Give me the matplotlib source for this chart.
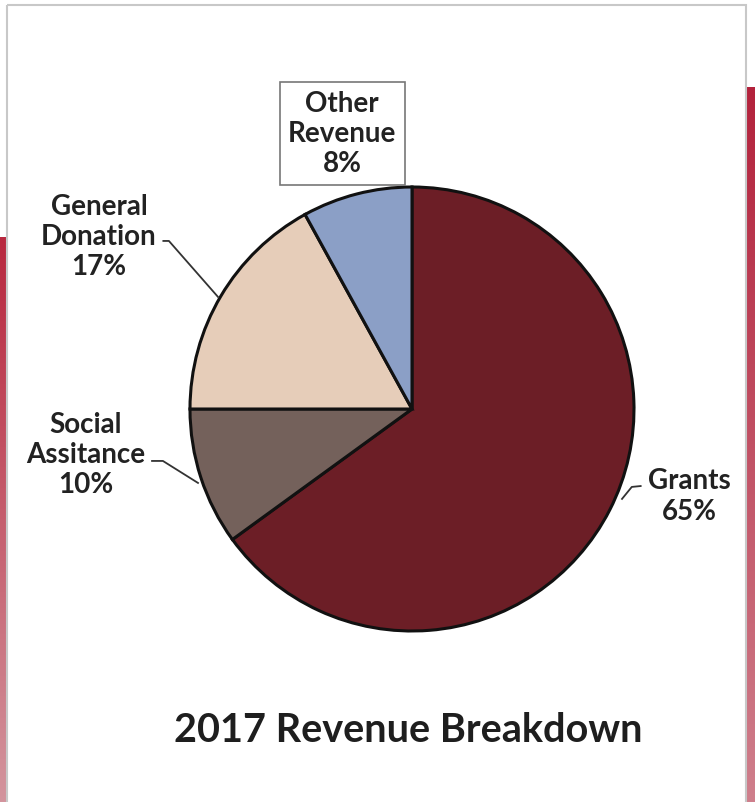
import matplotlib
matplotlib.use("Agg")
import matplotlib.pyplot as plt
import numpy as np
from matplotlib.patches import Rectangle
from matplotlib.colors import LinearSegmentedColormap

categories = ["Grants", "Social\nAssitance", "General\nDonation", "Other\nRevenue"]
values = [65, 10, 17, 8]
colors = ["#6c1e26", "#74615b", "#e6cdb9", "#8b9fc6"]
title = "2017 Revenue Breakdown"

plt.rcParams['font.family'] = ['Lato', 'DejaVu Sans']

W, H = 755, 803
fig = plt.figure(figsize=(W / 100, H / 100), dpi=100)
fig.patch.set_facecolor("white")

# background frame (brochure scan look)
bg = fig.add_axes([0, 0, 1, 1])
bg.axis("off")
grad = np.linspace(0, 1, 256).reshape(-1, 1)
cm_left = LinearSegmentedColormap.from_list("l", ["#b8283f", "#d3949d"])
cm_right = LinearSegmentedColormap.from_list("r", ["#b3223c", "#cf7f8c"])
bg.imshow(grad, cmap=cm_left, extent=[0, 7, H, 238], aspect="auto", zorder=1)
bg.imshow(grad, cmap=cm_right, extent=[746, W, H, 88], aspect="auto", zorder=1)
bg.add_patch(Rectangle((7, 6), 739, 800, fill=False, edgecolor="#c8c8c8", linewidth=1.5, zorder=2))
bg.set_xlim(0, W)
bg.set_ylim(H, 0)

cx, cy, r = 412, 410, 222
ax = fig.add_axes([(cx - r) / W, (H - cy - r) / H, 2 * r / W, 2 * r / H])
ax.pie(values, colors=colors, startangle=90, counterclock=False,
       wedgeprops=dict(edgecolor="#111111", linewidth=2.2))
ax.set_xlim(-1, 1)
ax.set_ylim(-1, 1)
ax.set_aspect("equal")
ax.axis("off")

txt = dict(fontsize=20, fontweight="bold", color="#222222", ha="center", va="center",
           linespacing=1.2)
lbl = [f"{c}\n{v}%" for c, v in zip(categories, values)]

# Grants
ax.text(1.25, -0.39, lbl[0], **txt, clip_on=False)
ax.plot([1.03, 0.99, 0.946], [-0.347, -0.351, -0.405], color="#333333", lw=1.3, clip_on=False)
# Social
ax.text(-1.47, -0.203, lbl[1], **txt, clip_on=False)
ax.plot([-1.171, -1.122, -0.964], [-0.234, -0.234, -0.333], color="#333333", lw=1.3, clip_on=False)
# General
ax.text(-1.41, 0.779, lbl[2], **txt, clip_on=False)
ax.plot([-1.12, -1.095, -0.874], [0.757, 0.757, 0.505], color="#333333", lw=1.3, clip_on=False)
# Other
ax.text(-0.315, 1.243, lbl[3], **txt, clip_on=False,
        bbox=dict(boxstyle="square,pad=0.3", facecolor="white", edgecolor="#777777", linewidth=1.2))

fig.text(408 / W, 1 - 731 / H, title, fontsize=28.5, fontweight="bold", color="#1e1e1e",
         ha="center", va="center")

fig.savefig("out.png", dpi=100, facecolor="white")
